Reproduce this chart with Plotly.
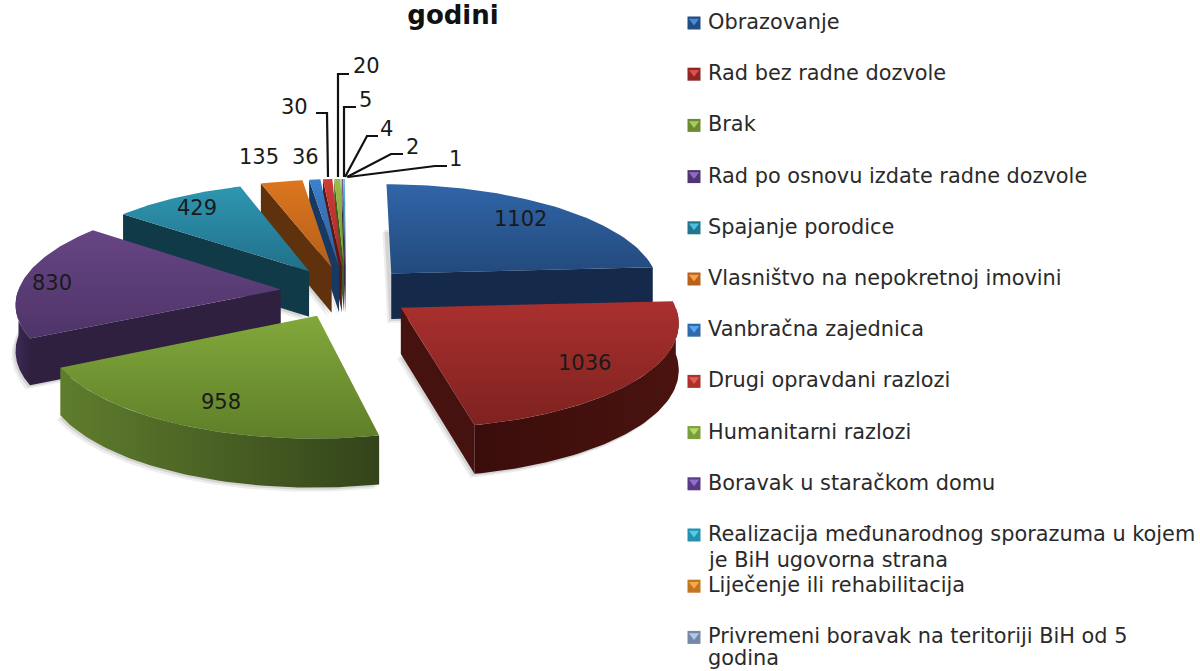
import math
import plotly.graph_objects as go

# ---- data ----
categories = ["Obrazovanje", "Rad bez radne dozvole", "Brak",
              "Rad po osnovu izdate radne dozvole", "Spajanje porodice",
              "Vlasništvo na nepokretnoj imovini", "Vanbračna zajednica",
              "Drugi opravdani razlozi", "Humanitarni razlozi",
              "Boravak u staračkom domu",
              "Realizacija međunarodnog sporazuma u kojem<br>je BiH ugovorna strana",
              "Liječenje ili rehabilitacija",
              "Privremeni boravak na teritoriji BiH od 5<br>godina"]
values = [1102, 1036, 958, 830, 429, 135, 36, 30, 20, 5, 4, 2, 1]
title_text = "godini"

# ---- styles ----
top_light = ["#3065a8", "#aa302e", "#82a83b", "#674584", "#2f96b0", "#dc761f",
             "#3d80cc", "#cf3b39", "#97bf46", "#7b57a6", "#31a8c8", "#e98a2b", "#93abd0"]
top_dark = ["#234a7c", "#7e2220", "#5f7f29", "#4e3468", "#21708a", "#b45f19",
            "#2c5f9a", "#a02c2a", "#73942f", "#5a3f7d", "#23809a", "#b96a1f", "#6f84a5"]
side = ["#15294a", "#451210", "#33441a", "#2f2040", "#113a48", "#5f310c",
        "#183a62", "#5a1715", "#44591c", "#35254a", "#14505f", "#6b3a10", "#48566c"]
rim_far = ["#15294a", "#3a0d0b", "#5f7d2d", "#3d2a55", "#113a48", "#5f310c",
           "#183a62", "#5a1715", "#44591c", "#35254a", "#14505f", "#6b3a10", "#48566c"]
rim_near = ["#15294a", "#4a130f", "#33441a", "#2f2040", "#113a48", "#5f310c",
            "#183a62", "#5a1715", "#44591c", "#35254a", "#14505f", "#6b3a10", "#48566c"]
swatch = ["#234c86", "#8f2624", "#6c8a30", "#4f3573", "#22758f", "#b9611a", "#2f69ad",
          "#ad302e", "#7a9e3c", "#573a84", "#2390ae", "#c2741f", "#7488aa"]
swatch_hi = ["#4a8ad0", "#d9504c", "#a8cc5c", "#8f6cc0", "#4cc0dc", "#f2a248", "#5ca4ec",
             "#e45c58", "#b4dc64", "#9070cc", "#50cce8", "#f4aa4c", "#b4c8e4"]

# projection of the pie plane onto the page (pixels)
CX, CY = 346, 292
A_RIGHT, A_LEFT = 270, 263
B_BACK, B_FRONT = 104, 102
PERSP = 0.12
EXPLODE = 0.25      # fraction of the radius
DEPTH = 46
TEXT = "#1a1a1a"
FONT = "DejaVu Sans"
LEGEND_SIZE = 20.85
LINE_PITCH = 26
LEGEND_TOP_MAX = 646

label_pos = [(520, 219), (584, 363), (221, 402), (52, 283), (197, 208), (259, 157),
             (305, 157), (294, 107), (366, 66), (365, 100), (386, 129), (412, 147), (455, 159)]
leader_paths = {7: [(316, 113), (327, 113), (328, 177)], 8: [(349, 74), (338, 74), (338, 177)],
                9: [(356, 107), (344, 107), (344, 177)], 10: [(378, 136), (367, 136), (345, 177)],
                11: [(403, 154), (391, 154), (347, 177)], 12: [(447, 166), (435, 166), (348, 177)]}
LEGEND_X, LEGEND_Y0, LEGEND_STEP = 708, 23, 51.2


def project(gx, gy):
    s = 1 / (1 + PERSP * gy)
    a = A_RIGHT if gx >= 0 else A_LEFT
    b = B_BACK if gy >= 0 else B_FRONT
    return CX + a * gx * s, CY - b * gy * s, DEPTH * s ** 0.4


def arc_ground(x0, y0, d0, d1, n=60):
    out = []
    for i in range(n + 1):
        t = math.radians(d0 + (d1 - d0) * i / n)
        out.append((x0 + math.sin(t), y0 + math.cos(t)))
    return out


def top(g):
    x, y, _ = project(*g)
    return (x, y)


def bottom(g, dx=0.0, dy=0.0):
    x, y, d = project(*g)
    return (x + dx, y + d + dy)


def poly_trace(pts, name, fill=None, grad=None):
    xs = [p[0] for p in pts] + [pts[0][0]]
    ys = [p[1] for p in pts] + [pts[0][1]]
    kw = dict(x=xs, y=ys, mode="lines", line=dict(width=0), fill="toself",
              name=name, hoverinfo="name", showlegend=False)
    if grad:
        kw["fillgradient"] = grad
    else:
        kw["fillcolor"] = fill
    return go.Scatter(**kw)


total = sum(values)
slices = []
cum = 0
for i, v in enumerate(values):
    d0 = cum / total * 360
    cum += v
    d1 = cum / total * 360
    mid = math.radians((d0 + d1) / 2)
    slices.append((math.cos(mid), i, d0, d1, EXPLODE * math.sin(mid), EXPLODE * math.cos(mid)))


def cut_face(apex, deg):
    t = math.radians(deg)
    c = (apex[0] + math.sin(t), apex[1] + math.cos(t))
    return [top(apex), top(c), bottom(c), bottom(apex)]


fig = go.Figure()
for _, i, d0, d1, gx, gy in sorted(slices, key=lambda r: -r[0]):
    name = categories[i].replace("<br>", " ")
    apex = (gx, gy)
    rim = arc_ground(gx, gy, d0, d1)
    # soft shadow under the slice
    for off, alpha in ((4, 0.07), (2, 0.10)):
        pts = [bottom(apex, -off, off)] + [bottom(g, -off, off) for g in rim]
        fig.add_trace(poly_trace(pts, name, fill=f"rgba(0,0,0,{alpha})"))
    # visible cut faces
    if math.sin(math.radians(d0)) < 0:
        fig.add_trace(poly_trace(cut_face(apex, d0), name, fill=side[i]))
    if 0 < d1 < 180:
        fig.add_trace(poly_trace(cut_face(apex, d1), name, fill=side[i]))
    # outer wall
    r0, r1 = max(d0, 90), min(d1, 270)
    if r1 > r0:
        wall = arc_ground(gx, gy, r0, r1)
        pts = [top(g) for g in wall] + [bottom(g) for g in reversed(wall)]
        xs = [p[0] for p in pts]
        fig.add_trace(poly_trace(pts, name, grad=dict(
            type="horizontal", start=max(xs), stop=min(xs),
            colorscale=[[0, rim_near[i]], [1, rim_far[i]]])))
    # top face
    pts = [top(apex)] + [top(g) for g in rim]
    ys = [p[1] for p in pts]
    fig.add_trace(poly_trace(pts, name, grad=dict(
        type="vertical", start=min(ys), stop=max(ys),
        colorscale=[[0, top_light[i]], [1, top_dark[i]]])))

# swatches of the legend
swatch_y = [LEGEND_Y0 + LEGEND_STEP * k for k in range(len(categories))]
fig.add_trace(go.Scatter(
    x=[694] * len(categories), y=swatch_y,
    mode="markers", marker=dict(symbol="square", size=13, color=swatch),
    hoverinfo="skip", showlegend=False))
fig.add_trace(go.Scatter(
    x=[694] * len(categories), y=[y - 2 for y in swatch_y],
    mode="markers", marker=dict(symbol="triangle-down", size=9, color=swatch_hi),
    hoverinfo="skip", showlegend=False))

shapes = []
for pts in leader_paths.values():
    path = "M " + " L ".join(f"{x},{y}" for x, y in pts)
    shapes.append(dict(type="path", path=path, xref="x", yref="y",
                       line=dict(color="#111111", width=2.2)))

annots = []
for v, (x, y) in zip(values, label_pos):
    annots.append(dict(x=x, y=y, xref="x", yref="y", text=str(v), showarrow=False,
                       font=dict(family=FONT, size=21, color=TEXT), xanchor="center", yanchor="middle"))
for k, c in enumerate(categories):
    for j, line in enumerate(c.split("<br>")):
        y_top = min(LEGEND_Y0 + LEGEND_STEP * k - 13 + LINE_PITCH * j, LEGEND_TOP_MAX)
        annots.append(dict(x=LEGEND_X, y=y_top, xref="x", yref="y", text=line,
                           showarrow=False, align="left", xanchor="left", yanchor="top",
                           borderpad=0, borderwidth=0,
                           font=dict(family=FONT, size=LEGEND_SIZE, color="#2a2a2a")))

fig.update_layout(
    width=1200, height=671, margin=dict(l=0, r=0, t=0, b=0),
    paper_bgcolor="white", plot_bgcolor="white",
    title=dict(text=title_text, x=453 / 1200, xanchor="center", y=1 - 15 / 671, yanchor="middle",
               font=dict(family=FONT, size=26, color="#111111", weight="bold")),
    xaxis=dict(range=[0, 1200], visible=False, fixedrange=True),
    yaxis=dict(range=[671, 0], visible=False, fixedrange=True),
    shapes=shapes, annotations=annots, showlegend=False)

fig.write_html("out.html", config=dict(displayModeBar=False),
               post_script="document.body.style.margin='0';document.body.style.overflow='hidden';")
